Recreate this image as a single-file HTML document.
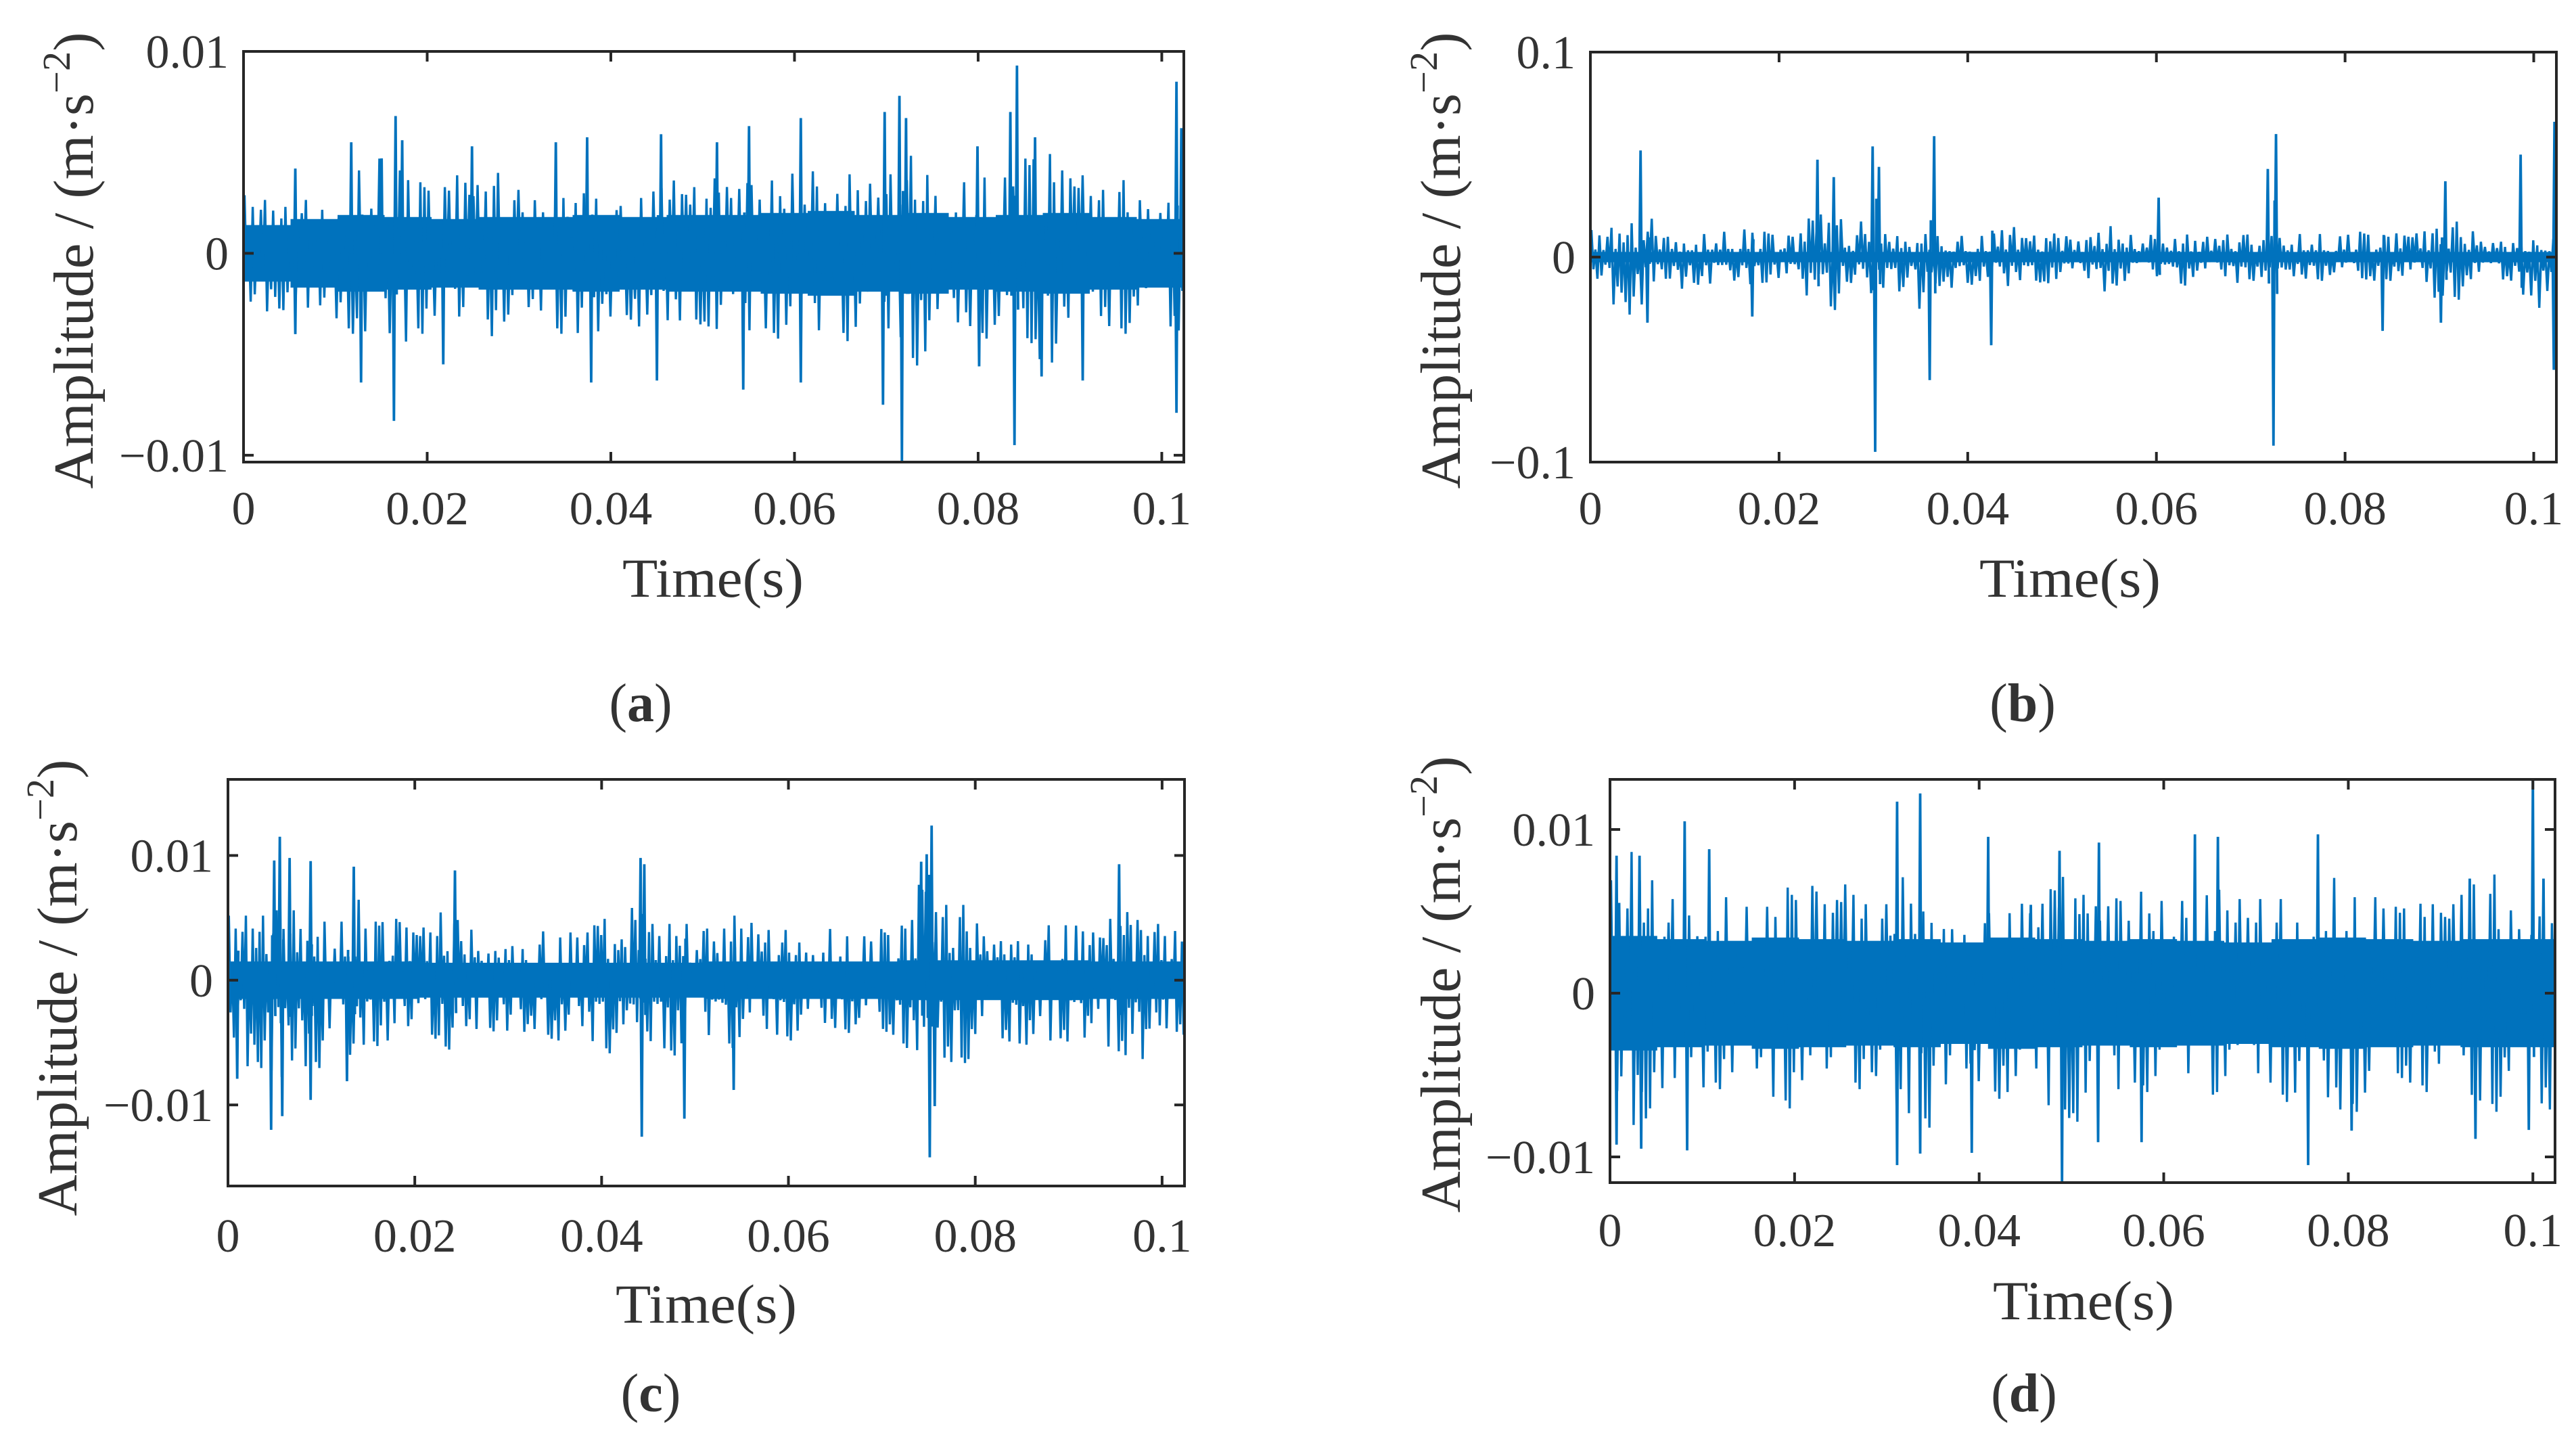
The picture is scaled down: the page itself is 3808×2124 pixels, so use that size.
<!DOCTYPE html>
<html><head><meta charset="utf-8">
<style>
html,body{margin:0;padding:0;background:#fff;}
svg{display:block;}
text{font-family:"Liberation Serif",serif;fill:#333;}
</style></head>
<body>
<svg id="fig" width="3808" height="2124" viewBox="0 0 3808 2124" xmlns="http://www.w3.org/2000/svg"></svg>
<script>
// ---------- shared ticks ----------
const xTickVals = [0, 0.02, 0.04, 0.06, 0.08, 0.1];
const xTickLabels = ["0", "0.02", "0.04", "0.06", "0.08", "0.1"];
const xMax = 0.1024;

// ---------- panel (a) data (units 0.001 m/s^2) ----------
const aYTicks = [-0.01, 0, 0.01];
const aYTickLabels = ["\u22120.01", "0", "0.01"];
const aEnvHi = [2.5,2.3,2.0,2.3,2.5,3.0,3.5,4.0,3.5,3.0,3.0,3.2,2.8,3.3,2.6,2.6,3.0,3.5,3.8,3.0,2.4,2.8,3.3,3.0,2.8,3.4,3.6,3.0,3.2,3.5,3.6,3.2,3.4,3.0,3.4,4.2,4.5,3.2,3.0,3.2,3.2,4.0,4.5,3.4,3.2,2.6,3.0,2.6,2.8,3.2];
const aEnvLo = [2.6,2.5,2.4,2.6,2.8,3.4,4.0,4.3,3.8,3.4,3.2,3.4,3.0,3.5,3.0,2.9,3.4,3.9,4.2,3.2,2.8,3.0,3.6,3.4,3.0,3.7,3.9,3.4,3.5,3.8,3.9,3.5,3.6,3.3,3.8,4.6,4.8,3.5,3.3,3.5,3.6,4.3,4.8,3.7,3.4,3.0,3.3,3.0,3.1,3.5];
const aCore = [1.4,1.7,1.9,1.8,1.7,1.8,1.8,1.9,1.8,1.9,1.9,2.0,2.1,1.9,2.0,1.8,1.9,2.0,1.8,1.7];
const aSpikeT = [0.00564,0.01173,0.01504,0.01656,0.01728,0.02488,0.03401,0.03742,0.04547,0.05156,0.05505,0.06069,0.06982,0.07143,0.07215,0.07993,0.08351,0.08423,0.0862,0.1016,0.10213,
                 0.00564,0.0128,0.01638,0.02175,0.03786,0.04502,0.05442,0.06069,0.06964,0.0717,0.08011,0.08396,0.08691,0.09139,0.1016];
const aSpikeV = [4.2,5.5,4.7,6.8,5.6,5.3,5.5,5.75,5.9,5.5,6.3,6.7,7.0,7.8,6.7,5.3,7.0,9.3,5.75,8.5,6.2,
                 -4.0,-6.4,-8.3,-5.5,-6.4,-6.3,-6.75,-6.4,-7.5,-10.3,-5.6,-9.5,-6.1,-6.3,-7.9];

// ---------- panel (b) data (units 0.01 m/s^2) ----------
const bYTicks = [-0.1, 0, 0.1];
const bYTickLabels = ["\u22120.1", "0", "0.1"];
const bEnvHi = [1.2,1.3,1.5,1.7,1.2,1.0,1.1,1.2,1.2,1.1,1.0,1.8,1.6,1.1,1.5,1.5,1.0,1.5,1.2,1.1,1.1,1.4,1.0,1.0,1.1,0.9,1.4,1.0,1.0,1.0,1.0,0.9,1.0,1.3,1.0,1.7,1.0,1.0,0.9,1.1,1.1,1.0,1.0,1.2,1.5,1.3,1.0,1.0,1.2,1.3];
const bEnvLo = [1.2,2.1,2.5,1.2,1.4,1.2,1.4,1.3,1.2,1.1,1.2,2.5,2.3,1.3,2.0,1.6,1.3,2.6,1.6,1.2,1.0,1.6,1.2,1.1,1.1,1.1,1.6,1.2,1.0,1.0,1.2,1.0,1.0,1.2,1.0,2.3,1.0,1.0,0.9,1.1,1.1,1.0,1.1,2.0,1.8,1.3,1.1,1.1,1.7,3.0];
const bCore = [0.25,0.25,0.25,0.25,0.25,0.25,0.25,0.25,0.25,0.25];
const bSpikeT = [0.00532,0.02407,0.0258,0.02992,0.03059,0.03644,0.06024,0.07181,0.07268,0.09063,0.09861,0.1022,
                 0.00605,0.01716,0.03019,0.03597,0.04249,0.07241,0.08398,0.09016,0.10213];
const bSpikeV = [5.2,4.75,3.9,5.4,4.4,5.9,2.9,4.3,6.0,3.7,5.0,6.6,
                 -3.2,-2.9,-9.5,-6.0,-4.3,-9.2,-3.6,-3.2,-5.5];

// ---------- panel (c) data (units 0.001 m/s^2) ----------
const cYTicks = [-0.01, 0, 0.01];
const cYTickLabels = ["\u22120.01", "0", "0.01"];
const cEnvHi = [4.5,4.5,6.5,6.5,5.5,4.0,5.5,4.0,4.5,3.5,3.5,4.5,4.0,3.0,3.5,3.5,4.0,3.5,3.5,4.5,3.0,6.0,4.0,4.0,3.5,4.5,4.5,4.0,3.5,3.5,3.5,3.5,3.0,3.0,3.5,4.0,7.0,5.0,5.0,4.5,4.0,4.0,4.5,4.5,4.0,3.5,4.5,5.0,4.0,3.5];
const cEnvLo = [5,6,7.5,7,6,4,6.5,4.5,5,4,4,5.5,4,3.5,4,4.5,4,4,4,5,3.5,6.5,5,5,4,4.5,4.5,4.5,4,4,4,3.5,3.5,3.5,4,4.5,6.5,6,5.5,5,4.5,4.5,5,4.5,4,4,5.5,5.5,4.5,4];
const cCore = [1.5,1.5,1.4,1.4,1.4,1.5,1.5,1.6,1.6,1.5];
const cSpikeT = [0.00495,0.00555,0.0066,0.00885,0.01347,0.0243,0.04417,0.04457,0.07421,0.0748,0.07533,0.0954,
                 0.00099,0.00462,0.00581,0.00885,0.01274,0.0443,0.04886,0.05414,0.07513,0.07566];
const cSpikeV = [9.6,11.5,9.8,9.55,9.1,8.8,9.8,9.3,9.5,10.1,12.4,9.3,
                 -7.9,-12.0,-10.9,-9.6,-8.1,-12.55,-11.1,-8.8,-14.2,-10.1];

// ---------- panel (d) data (units 0.001 m/s^2) ----------
const dYTicks = [-0.01, 0, 0.01];
const dYTickLabels = ["\u22120.01", "0", "0.01"];
const dEnvHi = [6,7.5,6,5,5.5,6,5,4.5,4.5,5.5,6,4.5,5.5,4.5,4.5,7,7,5.5,5,6,5,5,5,6.5,6,5.5,6,5,5.5,5,5,6.5,5.5,5,5,5,5,6,6,5,5,4.5,5,4.5,4.5,5.5,6,5,5,6];
const dEnvLo = [6.5,7,6,5,5,5,5,5,5.5,6,5.5,5,5,5,5,7.5,7,5.5,5,5.5,5.5,5,5,7,6.5,6,6,5,5,5,5,5.5,5,5.5,5,5.5,6,6.5,6.5,6,5.5,5,5,5,5,6,6,5.5,5.5,6.5];
const dCore = [3.5,3.3,3.2,3.4,3.3,3.2,3.3,3.1,3.4,3.3,3.2,3.3,3.2,3.1,3.3,3.4,3.3,3.2,3.3,3.3];
const dSpikeT = [0.00071,0.0032,0.00809,0.01075,0.03111,0.03361,0.04098,0.0456,0.04871,0.05298,0.06338,0.06587,0.07671,0.09316,0.1,0.10115,
                 0.00071,0.00338,0.00836,0.03111,0.03361,0.0392,0.04898,0.05289,0.0576,0.07565,0.08036,0.09378,0.09956];
const dSpikeV = [8.4,8.4,10.5,8.8,11.7,12.2,9.55,5.4,8.7,9.2,9.7,9.55,9.7,7.0,13.0,7.0,
                 -9.25,-9.5,-9.6,-10.5,-9.8,-9.75,-11.6,-9.1,-9.1,-10.5,-8.4,-8.9,-8.35];

// texture modulation for the dense oscillation (styling, irregular to avoid visible period)
const texture = [1.0,0.3,0.9,0.25,0.2,0.95,0.35,0.8,0.2,0.3,1.05,0.4,0.85,0.25,0.6,0.75,0.3,0.95,
                 0.45,0.22,0.7,0.98,0.28,0.55,0.18,0.88,0.62,0.33,0.77,0.26,0.5,1.02,0.38,0.68,0.24,0.84,0.42];

const NS = "http://www.w3.org/2000/svg";
const svg = document.getElementById('fig');
function mk(tag, attrs, parent){
  const e = document.createElementNS(NS, tag);
  for (const k in attrs) e.setAttribute(k, attrs[k]);
  (parent||svg).appendChild(e);
  return e;
}

function drawPanel(p){
  const g = mk('g', {});
  
  
  const L=p.left, R=p.right, T=p.top, B=p.bottom;
  const xs = t => L + (t / xMax) * (R - L);
  const ys = v => B - (v - p.yMin) / (p.yMax - p.yMin) * (B - T);
  const u = p.unit;

  const clip = mk('clipPath', {id:'clip-'+p.id}, g);
  mk('rect', {x:L, y:T-2, width:R-L, height:B-T+4}, clip);
  const sg = mk('g', {'clip-path':'url(#clip-'+p.id+')'}, g);
  
  

  // dense core band
  const nc = p.core.length;
  let cp = [];
  for (let i=0;i<nc;i++){ cp.push(xs(i*xMax/nc)+','+ys(p.core[i]*u)); cp.push(xs((i+1)*xMax/nc)+','+ys(p.core[i]*u)); }
  for (let i=nc-1;i>=0;i--){ cp.push(xs((i+1)*xMax/nc)+','+ys(-p.core[i]*u)); cp.push(xs(i*xMax/nc)+','+ys(-p.core[i]*u)); }
  const core = mk('polygon', {points:cp.join(' '), fill:'#0072BD'}, sg);
  
  

  // oscillation envelope zigzag
  const ne = p.envHi.length;
  const nt = texture.length;
  const pts = [];
  for (let k=0;k<p.n;k++){
    const t = (k + 0.5) / p.n * xMax;
    const bi = Math.min(ne-1, Math.floor(t / xMax * ne));
    const v = (k % 2 === 0) ? p.envHi[bi]*p.gain*texture[(k*11 + (k>>3)) % nt] : -p.envLo[bi]*p.gain*texture[(k*13 + 5 + (k>>4)) % nt];
    pts.push(xs(t).toFixed(1)+','+ys(v*u).toFixed(1));
  }
  const line = mk('polyline', {points:pts.join(' '), fill:'none', stroke:'#0072BD', 'stroke-width':3.4, 'stroke-linejoin':'miter'}, sg);
  
  

  // spikes
  for (let i=0;i<p.spikeT.length;i++){
    const t = p.spikeT[i], v = p.spikeV[i];
    const d = 0.00012;
    const s = mk('polyline', {points: xs(t-d)+','+ys(0)+' '+xs(t)+','+ys(v*u)+' '+xs(t+d)+','+ys(-v*u*0.3), fill:'none', stroke:'#0072BD', 'stroke-width':3.8}, sg);
    
    
  }

  // frame
  const fr = mk('rect', {x:L, y:T, width:R-L, height:B-T, fill:'none', stroke:'#262626', 'stroke-width':4}, g);
  
  

  // x ticks
  for (let i=0;i<xTickVals.length;i++){
    const x = xs(xTickVals[i]);
    mk('line', {x1:x, y1:B, x2:x, y2:B-15, stroke:'#262626', 'stroke-width':4}, g);
    mk('line', {x1:x, y1:T, x2:x, y2:T+15, stroke:'#262626', 'stroke-width':4}, g);
    const tl = mk('text', {x:x, y:p.xLabelY, 'font-size':70, 'text-anchor':'middle'}, g);
    tl.textContent = xTickLabels[i];
    
    
  }
  // y ticks
  for (let i=0;i<p.yTicks.length;i++){
    const y = ys(p.yTicks[i]);
    mk('line', {x1:L, y1:y, x2:L+15, y2:y, stroke:'#262626', 'stroke-width':4}, g);
    mk('line', {x1:R, y1:y, x2:R-15, y2:y, stroke:'#262626', 'stroke-width':4}, g);
    const tl = mk('text', {x:L-22, y:y+24, 'font-size':70, 'text-anchor':'end'}, g);
    tl.textContent = p.yTickLabels[i];
    
    
  }
  // x title
  const xt = mk('text', {x:p.xTitleX, y:p.xTitleY, 'font-size':82, 'text-anchor':'middle', textLength:268, lengthAdjust:'spacingAndGlyphs'}, g);
  xt.textContent = 'Time(s)';
  
  
  // y title
  const yt = mk('text', {x:0, y:0, 'font-size':84, 'text-anchor':'middle', transform:'translate('+(p.yTitleX+28)+','+p.yTitleY+') rotate(-90)', textLength:675, lengthAdjust:'spacingAndGlyphs'}, g);
  
  
  yt.appendChild(document.createTextNode('Amplitude / (m\u00B7s'));
  const sup = mk('tspan', {dy:-34, 'font-size':58}, yt);
  sup.textContent = '\u22122';
  const cl = mk('tspan', {dy:34}, yt);
  cl.textContent = ')';
  // caption
  const cap = mk('text', {x:p.capX, y:p.capY, 'font-size':80, 'text-anchor':'middle'}, g);
  
  
  cap.appendChild(document.createTextNode('('));
  const b = mk('tspan', {'font-weight':'bold'}, cap); b.textContent = p.id;
  cap.appendChild(document.createTextNode(')'));
}

drawPanel({id:'a', left:360, right:1750, top:76, bottom:683, yMin:-0.01034, yMax:0.01, unit:0.001, gain:1.15,
  envHi:aEnvHi, envLo:aEnvLo, core:aCore, spikeT:aSpikeT, spikeV:aSpikeV, n:460,
  yTicks:aYTicks, yTickLabels:aYTickLabels, xLabelY:775, xTitleX:1054, xTitleY:882, yTitleX:109, yTitleY:385, capX:947, capY:1066});
drawPanel({id:'b', left:2351, right:3779, top:77, bottom:683, yMin:-0.1, yMax:0.1, unit:0.01, gain:1.1,
  envHi:bEnvHi, envLo:bEnvLo, core:bCore, spikeT:bSpikeT, spikeV:bSpikeV, n:480,
  yTicks:bYTicks, yTickLabels:bYTickLabels, xLabelY:775, xTitleX:3060, xTitleY:882, yTitleX:2130, yTitleY:385, capX:2990, capY:1066});
drawPanel({id:'c', left:337, right:1751, top:1152, bottom:1753, yMin:-0.0165, yMax:0.0161, unit:0.001, gain:1.15,
  envHi:cEnvHi, envLo:cEnvLo, core:cCore, spikeT:cSpikeT, spikeV:cSpikeV, n:560,
  yTicks:cYTicks, yTickLabels:cYTickLabels, xLabelY:1850, xTitleX:1044, xTitleY:1955, yTitleX:85, yTitleY:1460, capX:962, capY:2086});
drawPanel({id:'d', left:2380, right:3777, top:1152, bottom:1748, yMin:-0.01157, yMax:0.01306, unit:0.001, gain:1.15,
  envHi:dEnvHi, envLo:dEnvLo, core:dCore, spikeT:dSpikeT, spikeV:dSpikeV, n:460,
  yTicks:dYTicks, yTickLabels:dYTickLabels, xLabelY:1842, xTitleX:3080, xTitleY:1950, yTitleX:2130, yTitleY:1455, capX:2992, capY:2086});
</script>
</body></html>
